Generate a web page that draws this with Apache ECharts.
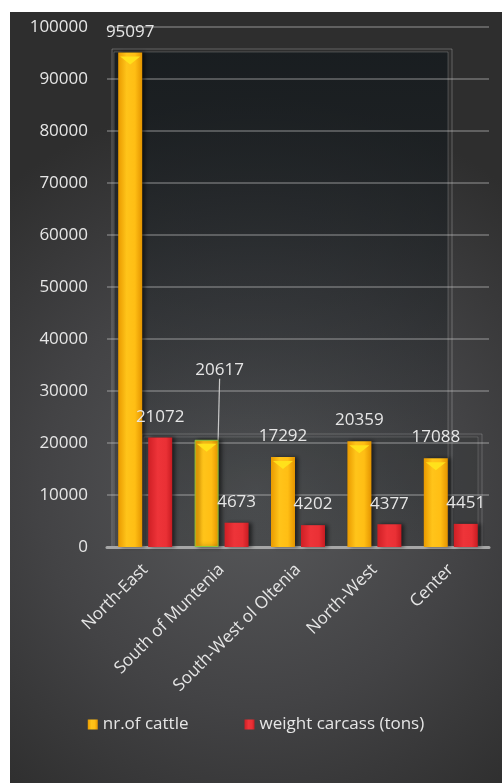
<!DOCTYPE html>
<html>
<head>
<meta charset="utf-8">
<script src="https://cdn.jsdelivr.net/npm/echarts@6/dist/echarts.min.js"></script>
<style>
html,body{margin:0;padding:0;background:#fff;}
#chart{position:absolute;left:10px;top:12px;width:492px;height:771px;}
</style>
</head>
<body>
<div id="chart"></div>
<script>
var categories = ['North-East', 'South of Muntenia', 'South-West ol Oltenia', 'North-West', 'Center'];
var cattle = [95097, 20617, 17292, 20359, 17088];
var carcass = [21072, 4673, 4202, 4377, 4451];
var seriesNames = ['nr.of cattle', 'weight carcass (tons)'];
var yTicks = {min: 0, max: 100000, interval: 10000};

var FONT = 'Open Sans';
var TXT = '#e6e6e6';
var FS = 17;

var yellow = new echarts.graphic.LinearGradient(0, 0, 1, 0, [
  {offset: 0, color: '#e99a00'}, {offset: 0.35, color: '#ffc41a'},
  {offset: 0.7, color: '#ffbe14'}, {offset: 1, color: '#e49400'}]);
var red = new echarts.graphic.LinearGradient(0, 0, 1, 0, [
  {offset: 0, color: '#cf1f25'}, {offset: 0.4, color: '#ee3439'},
  {offset: 0.75, color: '#ea3035'}, {offset: 1, color: '#c81c22'}]);

var chart = echarts.init(document.getElementById('chart'));
var cattleData = cattle.map(function (v, i) {
  var d = {value: v};
  if (i === 1) {
    d.itemStyle = {borderColor: '#8cc63f', borderWidth: 1};
    d.labelLine = {show: true, lineStyle: {color: '#c8c8c8', width: 1.2}};
  }
  return d;
});

chart.setOption({
  backgroundColor: new echarts.graphic.RadialGradient(0.5, 0.62, 0.8, [
    {offset: 0, color: '#58595b'}, {offset: 0.55, color: '#434345'}, {offset: 1, color: '#2e2e2e'}]),
  textStyle: {fontFamily: FONT},
  animation: false,
  graphic: [
    {type: 'rect', z: 0, shape: {x: 102, y: 37, width: 340, height: 498},
     style: {fill: 'none', stroke: 'rgba(255,255,255,0.25)', lineWidth: 1}},
    {type: 'rect', z: 0, shape: {x: 104, y: 40, width: 334, height: 495},
     style: {fill: new echarts.graphic.LinearGradient(0, 0, 0, 1, [
       {offset: 0, color: 'rgba(18,24,28,0.75)'}, {offset: 1, color: 'rgba(18,24,28,0.0)'}]),
       stroke: 'rgba(255,255,255,0.2)', lineWidth: 1}},
    {type: 'rect', z: 0, shape: {x: 132, y: 422, width: 340, height: 113},
     style: {fill: 'none', stroke: 'rgba(255,255,255,0.2)', lineWidth: 1}},
    {type: 'rect', z: 0, shape: {x: 134, y: 425, width: 334, height: 110},
     style: {fill: 'rgba(20,24,28,0.15)', stroke: 'rgba(255,255,255,0.15)', lineWidth: 1}}
  ],
  grid: {left: 97, right: 13, top: 15, bottom: 236},
  legend: {
    data: seriesNames,
    left: 'center', top: 699,
    itemWidth: 10, itemHeight: 10, itemGap: 56,
    icon: 'rect',
    textStyle: {color: TXT, fontSize: FS, fontFamily: FONT}
  },
  xAxis: {
    type: 'category', data: categories,
    axisLine: {lineStyle: {color: '#a6a6a6', width: 3}},
    axisTick: {show: false},
    axisLabel: {rotate: 45, color: TXT, fontSize: FS, fontFamily: FONT, margin: 20, interval: 0}
  },
  yAxis: {
    type: 'value', min: yTicks.min, max: yTicks.max, interval: yTicks.interval,
    axisLine: {show: false}, axisTick: {show: false},
    axisLabel: {color: TXT, fontSize: FS, fontFamily: FONT, margin: 19,
      formatter: function (v) { return String(v); }},
    splitLine: {lineStyle: {color: 'rgba(200,200,200,0.45)', width: 1.5}}
  },
  series: [
    {
      name: seriesNames[0], type: 'bar', data: cattleData,
      barWidth: 24, barGap: '25%', z: 3,
      itemStyle: {color: yellow, shadowColor: 'rgba(0,0,0,0.55)', shadowBlur: 4, shadowOffsetX: 3},
      label: {show: true, position: 'top', distance: 12, color: TXT, fontSize: FS, fontFamily: FONT},
      labelLine: {show: false},
      labelLayout: function (p) {
        if (p.dataIndex === 1) return {dx: 13, dy: -49};
        return {};
      }
    },
    {
      name: seriesNames[1], type: 'bar', data: carcass,
      barWidth: 24, z: 3,
      itemStyle: {color: red, shadowColor: 'rgba(0,0,0,0.55)', shadowBlur: 4, shadowOffsetX: 3},
      label: {show: true, position: 'top', distance: 12, color: TXT, fontSize: FS, fontFamily: FONT}
    },
    {
      type: 'pictorialBar', data: cattle, z: 4, silent: true,
      symbol: 'path://M0,0 L10,0 L5,4 Z',
      symbolSize: [20, 8], symbolPosition: 'end', symbolOffset: [-15, '50%'],
      itemStyle: {color: '#ffe41c', opacity: 0.9},
      tooltip: {show: false}
    }
  ]
});
</script>
</body>
</html>
